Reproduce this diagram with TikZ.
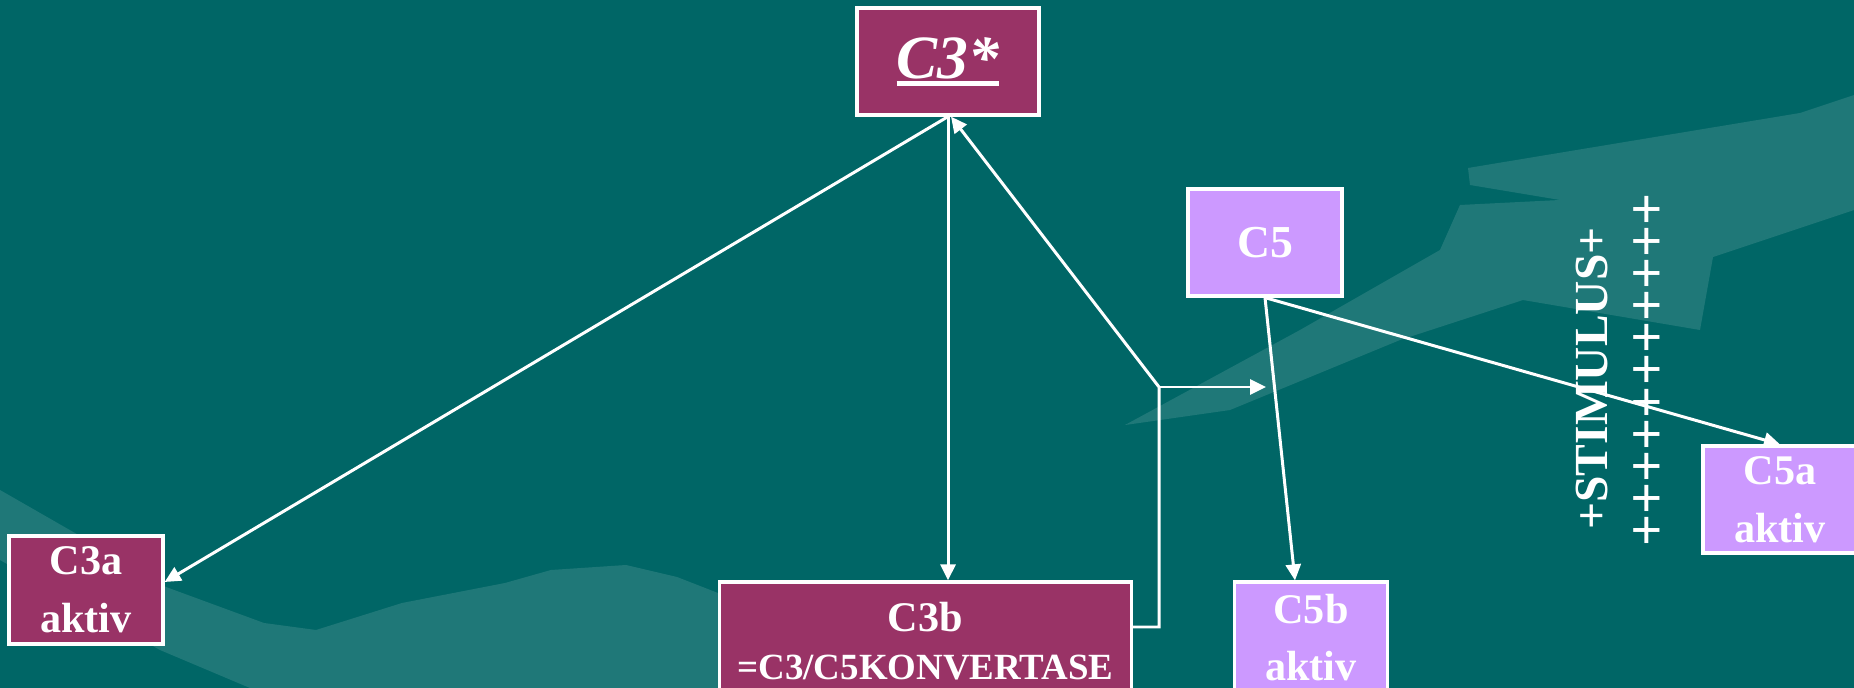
\documentclass[tikz,border=0pt]{standalone}
\usepackage{fontspec}
\setmainfont{Liberation Serif}
\usetikzlibrary{arrows.meta,calc}
\definecolor{bgteal}{RGB}{0,102,102}
\definecolor{cthree}{RGB}{153,51,102}
\definecolor{cfive}{RGB}{204,153,255}
\newcommand{\thickul}[1]{\setbox0\hbox{#1}\rlap{\raisebox{-2.2pt}{\rule{\wd0}{1.3pt}}}\box0}

\begin{document}
\begin{tikzpicture}[x=0.01cm,y=-0.01cm,
  box/.style={draw=white,line width=0.9pt,align=center,text=white,inner sep=0pt},
  cthreebox/.style={box,fill=cthree},
  cfivebox/.style={box,fill=cfive},
  arr/.style={white,line width=0.85pt,-{Triangle[length=0.16cm,width=0.15cm]}},
  deco/.style={fill=white,fill opacity=0.12}]

\useasboundingbox (0,0) rectangle (1854,688);
\clip (0,0) rectangle (1854,688);
\fill[bgteal] (0,0) rectangle (1854,688);

% background shapes
\fill[deco] (1125,425) -- (1300,330) -- (1440,250) -- (1460,205) -- (1560,200)
  -- (1470,185) -- (1468,168) -- (1800,113) -- (1854,95) -- (1854,210)
  -- (1713,257) -- (1700,330) -- (1523,300) -- (1400,340) -- (1230,410) -- cycle;
\fill[deco] (0,490) -- (75,533) -- (166,587) -- (264,623) -- (316,630) -- (402,603)
  -- (505,583) -- (551,570) -- (626,565) -- (677,577) -- (718,593) -- (760,650)
  -- (780,688) -- (250,688) -- (160,650) -- (0,560) -- cycle;

% boxes
\node[cthreebox,minimum width=1.82cm,minimum height=1.07cm,
  font=\bfseries\itshape\fontsize{17.5}{20}\selectfont] (c3s) at (948,61.5) {\thickul{C3*}};
\node[cthreebox,minimum width=1.54cm,minimum height=1.08cm,
  font=\bfseries\fontsize{12}{16.5}\selectfont] (c3a) at (86,590) {C3a\\aktiv};
\node[cthreebox,minimum width=4.11cm,minimum height=1.18cm,
  font=\bfseries\fontsize{10.5}{13.7}\selectfont] (c3b) at (925.5,641)
  {{\fontsize{12}{13.7}\selectfont C3b}\\=C3/C5KONVERTASE};
\node[cfivebox,minimum width=1.54cm,minimum height=1.07cm,
  font=\bfseries\fontsize{13}{16}\selectfont] (c5) at (1265,242.5) {C5};
\node[cfivebox,minimum width=1.53cm,minimum height=1.11cm,
  font=\bfseries\fontsize{12}{16}\selectfont] (c5b) at (1311,637.5) {C5b\\aktiv};
\node[cfivebox,minimum width=1.54cm,minimum height=1.07cm,
  font=\bfseries\fontsize{12}{16.5}\selectfont] (c5a) at (1780,499.5) {C5a\\aktiv};

% stimulus
\node[rotate=90,anchor=base,text=white,inner sep=0pt,
  font=\bfseries\fontsize{13.5}{16}\selectfont] (stim) at (1607,378.5) {+STIMULUS+};
\node[rotate=90,text=white,inner sep=0pt,
  font=\bfseries\fontsize{16}{18}\selectfont] (plus) at (1650,370) {+++++++++++};

% connectors
\coordinate (knee) at (1159,387);
\coordinate (junc) at (1266,387);
\draw[arr] (c3s.south) -- ($(c3a.east)+(0,-8)$);
\draw[arr] (c3s.south) -- (c3s.south |- c3b.north);
\draw[arr] ($(c3b.east)+(0,-14)$) -| (knee) -- ($(c3s.south)+(3,0)$);
\draw[arr] (knee) -- (junc);
\draw[arr] (c5.south) -- ($(c5b.north)+(-16,0)$);
\draw[arr] (c5.south) -- (c5a.north);

\end{tikzpicture}
\end{document}
